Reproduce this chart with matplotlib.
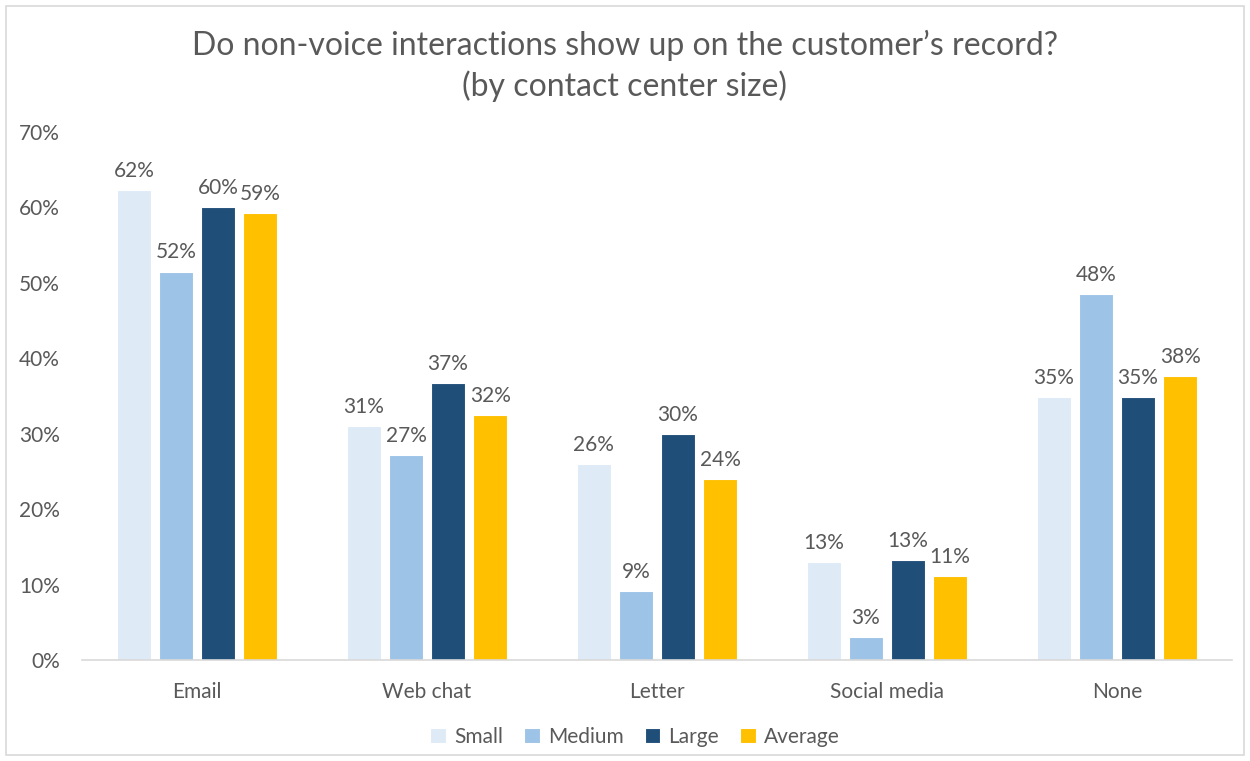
import matplotlib
matplotlib.use("Agg")
import matplotlib.pyplot as plt
from matplotlib.patches import Rectangle
import numpy as np

categories = ["Email", "Web chat", "Letter", "Social media", "None"]
series_names = ["Small", "Medium", "Large", "Average"]
small = [62.3, 31.0, 26.0, 13.0, 34.9]
medium = [51.5, 27.2, 9.2, 3.0, 48.5]
large = [60.0, 36.7, 30.0, 13.3, 34.9]
average = [59.3, 32.5, 24.0, 11.1, 37.7]
yticks = [0, 10, 20, 30, 40, 50, 60, 70]

colors = ["#DEEBF7", "#9DC3E6", "#1F4E79", "#FFC000"]
txt = "#595959"
plt.rcParams['font.family'] = ['Lato', 'DejaVu Sans']

fig = plt.figure(figsize=(12.5, 7.61), dpi=100)
fig.patches.append(Rectangle((6/1250, 6/761), 1 - 12/1250, 1 - 12/761, transform=fig.transFigure,
                             fill=False, edgecolor="#D9D9D9", linewidth=1.2))
ax = fig.add_axes([82/1250, 1 - 660/761, 1150/1250, (660 - 132)/761])

data = [small, medium, large, average]
x = np.arange(len(categories))
pitch = 0.183
width = 0.148
for i, (name, vals) in enumerate(zip(series_names, data)):
    pos = x + (i - 1.5) * pitch
    ax.bar(pos, vals, width=width, color=colors[i], edgecolor="white", linewidth=0.8, label=name)
    for p, v in zip(pos, vals):
        ax.text(p, v + 1.2, f"{v:.0f}%", ha="center", va="bottom", fontsize=15, color=txt)

ax.set_xlim(-0.5, len(categories) - 0.5)
ax.set_ylim(0, 70)
ax.set_yticks(yticks)
ax.set_yticklabels([f"{t}%" for t in yticks], fontsize=15, color=txt)
ax.set_xticks(x)
ax.set_xticklabels(categories, fontsize=15, color=txt)
ax.tick_params(axis="both", length=0)
ax.tick_params(axis="y", pad=16)
ax.tick_params(axis="x", pad=16)
for s in ["top", "right", "left"]:
    ax.spines[s].set_visible(False)
ax.spines["bottom"].set_color("#D9D9D9")
ax.spines["bottom"].set_linewidth(1.2)

fig.text(0.5, 1 - 66/761, "Do non-voice interactions show up on the customer\u2019s record?\n(by contact center size)",
         ha="center", va="center", fontsize=23, color=txt, linespacing=1.38)

leg = fig.legend(loc="center", bbox_to_anchor=(0.508, 1 - 737/761), ncol=4, frameon=False,
                 fontsize=15, handlelength=0.75, handleheight=0.75, handletextpad=0.4, columnspacing=1.0)
for t in leg.get_texts():
    t.set_color(txt)

fig.savefig("out.png", dpi=100)
